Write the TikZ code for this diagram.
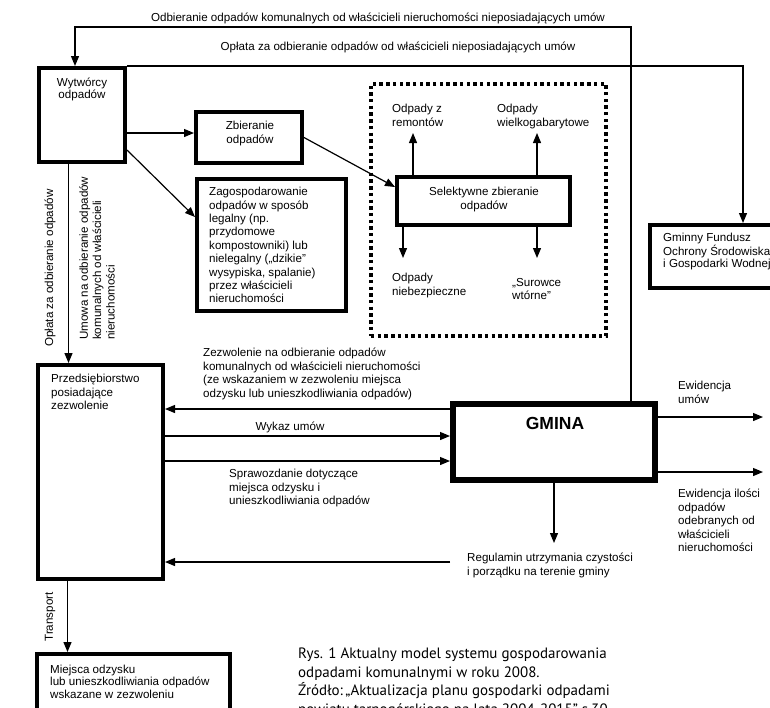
\documentclass[tikz,border=0pt]{standalone}
\usepackage{fontspec}
\setmainfont{Liberation Sans}
\newfontfamily\capfont{PT Sans}
\usetikzlibrary{arrows.meta}
\begin{document}
\begin{tikzpicture}[x=1pt,y=-1pt,
  box/.style={draw, line width=4pt, inner sep=0pt},
  dotbox/.style={draw, line width=3.4pt, dash pattern=on 3.4pt off 3.3pt, inner sep=0pt},
  arr/.style={line width=1.2pt, -{Triangle[length=10pt,width=8pt]}},
  txt/.style={font=\fontsize{11.6}{13.4}\selectfont, inner sep=0pt, align=left, anchor=north west, execute at begin node=\strut},
  txtc/.style={txt, align=center, anchor=north},
  one/.style={font=\fontsize{11.6}{13.4}\selectfont, inner sep=0pt, anchor=base},
  rot/.style={font=\fontsize{11.6}{13.4}\selectfont, inner sep=0pt, rotate=90},
  captxt/.style={font=\capfont\fontsize{15}{18.5}\selectfont, inner sep=0pt, align=left, anchor=north west, execute at begin node=\strut}
]
\useasboundingbox (0,0) rectangle (770,707);
\fill[white] (0,0) rectangle (770,707);
\begin{scope}
\clip (0,0) rectangle (770,707);

% boxes
\node[box, minimum width=86, minimum height=94] (wyt) at (82,115) {};
\node[box, minimum width=106, minimum height=51] (zb) at (249,137.5) {};
\node[box, minimum width=149, minimum height=132] (zag) at (271.5,245) {};
\node[dotbox, minimum width=235, minimum height=252] (dot) at (488.5,210) {};
\node[box, minimum width=173, minimum height=48] (sel) at (483.5,201) {};
\node[box, minimum width=150, minimum height=63] (gf) at (725,256.5) {};
\node[box, minimum width=125, minimum height=214] (prz) at (100.5,472) {};
\node[draw, line width=6pt, inner sep=0pt, minimum width=202, minimum height=76] (gm) at (554,442) {};
\node[box, minimum width=193, minimum height=86] (mie) at (133.5,697) {};

% texts
\node[one] (t1) at (378,21.5) {Odbieranie odpadów komunalnych od właścicieli nieruchomości nieposiadających umów};
\node[one] (t2) at (398,50.5) {Opłata za odbieranie odpadów od właścicieli nieposiadających umów};
\node[txtc, font=\fontsize{11.6}{12}\selectfont] (twyt) at (82,78.1) {Wytwórcy\\odpadów};
\node[txtc] (tzb) at (250,121.1) {Zbieranie\\odpadów};
\node[txt] (tzag) at (209,187.1) {Zagospodarowanie\\odpadów w sposób\\legalny (np.\\przydomowe\\kompostowniki) lub\\nielegalny („dzikie”\\wysypiska, spalanie)\\przez właścicieli\\nieruchomości};
\node[txtc, font=\fontsize{11.6}{14.5}\selectfont] (tsel) at (484,186.5) {Selektywne zbieranie\\odpadów};
\node[txt] (trem) at (392,104.1) {Odpady z\\remontów};
\node[txt] (twie) at (497,104.1) {Odpady\\wielkogabarytowe};
\node[txt] (tnie) at (392,273.1) {Odpady\\niebezpieczne};
\node[txt] (tsur) at (512,278.1) {„Surowce\\wtórne”};
\node[txt, font=\fontsize{11.6}{12}\selectfont] (tgf) at (663,233.1) {Gminny Fundusz\\Ochrony Środowiska\\i Gospodarki Wodnej};
\node[rot] (top) at (50,268) {Opłata za odbieranie odpadów};
\node[rot, align=left, anchor=north west, execute at begin node=\strut] (tum) at (79.1,340) {Umowa na odbieranie odpadów\\komunalnych od właścicieli\\nieruchomości};
\node[txt] (tprz) at (51,374.1) {Przedsiębiorstwo\\posiadające\\zezwolenie};
\node[txt] (tzez) at (203,348.1) {Zezwolenie na odbieranie odpadów\\komunalnych od właścicieli nieruchomości\\(ze wskazaniem w zezwoleniu miejsca\\odzysku lub unieszkodliwiania odpadów)};
\node[one] (twyk) at (290,430.5) {Wykaz umów};
\node[txt] (tspr) at (229,469.1) {Sprawozdanie dotyczące\\miejsca odzysku i\\unieszkodliwiania odpadów};
\node[font=\bfseries\fontsize{17.5}{20}\selectfont, inner sep=0pt] (tgm) at (555,423) {GMINA};
\node[txt] (tewu) at (678,381.1) {Ewidencja\\umów};
\node[txt] (tewi) at (678,489.1) {Ewidencja ilości\\odpadów\\odebranych od\\właścicieli\\nieruchomości};
\node[txt] (treg) at (467,553.1) {Regulamin utrzymania czystości\\i porządku na terenie gminy};
\node[rot] (ttr) at (50,617) {Transport};
\node[txt, font=\fontsize{11.6}{12.5}\selectfont] (tmie) at (50,664.8) {Miejsca odzysku\\lub unieszkodliwiania odpadów\\wskazane w zezwoleniu};
\node[captxt] (cap) at (298,648.1) {Rys. 1 Aktualny model systemu gospodarowania\\odpadami komunalnymi w roku 2008.\\Źródło:\,„Aktualizacja planu gospodarki odpadami\\powiatu tarnogórskiego na lata 2004-2015” s.30};

% coordinates
\coordinate (c1) at (631,27);
\coordinate (c2) at (75,27);
\coordinate (c3) at (743,66);
\coordinate (rr) at (413,133);
\coordinate (rw) at (537,133);
\coordinate (rn) at (403,258);
\coordinate (rs) at (537,258);
\coordinate (ew1) at (763,417);
\coordinate (ew2) at (763,472);
\coordinate (rg) at (554,543);
\coordinate (r1) at (450,562);

% connectors
\draw[arr] (gm.north -| c1) -- (c1) -- (c2) -- (wyt.north -| c2);
\draw[arr] (wyt.north east) -- (c3) -- (gf.north -| c3);
\draw[arr] (wyt.east |- 0,133) -- (zb.west |- 0,133);
\draw[arr] (wyt.east |- 0,150) -- (zag.west |- 0,217);
\draw[arr] (zb.east |- 0,137.5) -- (sel.west |- 0,187);
\draw[arr] (sel.north -| rr) -- (rr);
\draw[arr] (sel.north -| rw) -- (rw);
\draw[arr] (sel.south -| rn) -- (rn);
\draw[arr] (sel.south -| rs) -- (rs);
\draw[arr] (wyt.south -| 68.5,0) -- (prz.north -| 68.5,0);
\draw[arr] (gm.west |- 0,409) -- (prz.east |- 0,409);
\draw[arr] (prz.east |- 0,436) -- (gm.west |- 0,436);
\draw[arr] (prz.east |- 0,461) -- (gm.west |- 0,461);
\draw[arr] (r1) -- (prz.east |- r1);
\draw[arr] (gm.east |- ew1) -- (ew1);
\draw[arr] (gm.east |- ew2) -- (ew2);
\draw[arr] (gm.south -| rg) -- (rg);
\draw[arr] (prz.south -| 67.5,0) -- (mie.north -| 67.5,0);
\end{scope}
\end{tikzpicture}
\end{document}
